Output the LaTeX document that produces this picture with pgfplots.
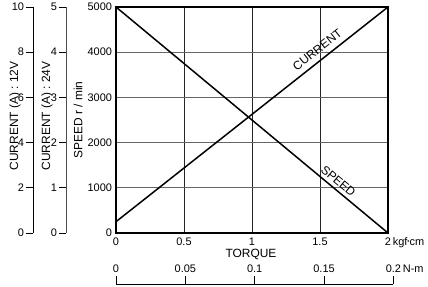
\documentclass[border=0pt]{standalone}
\usepackage{pgfplots}
\pgfplotsset{compat=1.18}
\usepackage{fontspec}
\setmainfont{Liberation Sans}
\usepackage{graphicx}
\newcommand{\kdot}{\raisebox{0.3ex}{\scalebox{0.55}{\textbullet}}}
\newcommand{\tkf}{\fontsize{11}{13}\selectfont}
\newcommand{\lbl}{\fontsize{12}{14}\selectfont}
\begin{document}
\begin{tikzpicture}[x=1bp,y=1bp]
\path[use as bounding box] (0,0) rectangle (428,287);
\pgfplotsset{every axis/.append style={font=\tkf, /pgf/number format/assume math mode=true}}

% main axis: speed
\begin{axis}[at={(116bp,54bp)}, anchor=south west, scale only axis,
  width=272bp, height=226bp,
  xmin=0, xmax=2, ymin=0, ymax=5000,
  xtick={0,0.5,1,1.5,2},
  xticklabels={0,0.5,1,1.5,{2\rlap{\,kgf\kdot cm}}},
  ytick={0,1000,2000,3000,4000,5000},
  yticklabels={0,1000,2000,3000,4000,5000},
  xmajorgrids, ymajorgrids,
  x grid style={line width=0.7bp, black!85},
  y grid style={line width=0.7bp, black!60},
  axis line style={line width=1.6bp},
  tick style={draw=none},
  xticklabel style={yshift=-1bp},
  yticklabel style={xshift=-0.5bp},
  clip=false]
\addplot[line width=1.5bp, black] coordinates {(0,5000) (2,0)};
\node[rotate=-39.7, font=\lbl] at (axis cs:1.635,1150) {SPEED};
\end{axis}

% overlay: current at 12V (0-10 A)
\begin{axis}[at={(116bp,54bp)}, anchor=south west, scale only axis,
  width=272bp, height=226bp,
  xmin=0, xmax=2, ymin=0, ymax=10, hide axis, clip=false]
\addplot[line width=1.5bp, black] coordinates {(0,0.5) (2,10)};
\node[rotate=38.3, font=\lbl] at (axis cs:1.48,8.1) {CURRENT};
\end{axis}

% left axis: current 12V
\begin{axis}[at={(33bp,54bp)}, anchor=south west, scale only axis,
  width=1bp, height=226bp, xmin=0, xmax=1,
  hide x axis, axis y line*=left, ymin=0, ymax=10,
  ytick={0,2,4,6,8,10}, tick align=outside, major tick length=7bp,
  axis line style={line width=0.8bp, -}, tick style={line width=0.8bp, black},
  yticklabel style={xshift=1.5bp}]
\end{axis}

% left axis: current 24V
\begin{axis}[at={(66bp,54bp)}, anchor=south west, scale only axis,
  width=1bp, height=226bp, xmin=0, xmax=1,
  hide x axis, axis y line*=left, ymin=0, ymax=5,
  ytick={0,1,2,3,4,5}, tick align=outside, major tick length=7bp,
  axis line style={line width=0.8bp, black!70, -}, tick style={line width=0.8bp, black},
  yticklabel style={xshift=1.5bp}]
\end{axis}

% bottom N-m axis
\begin{axis}[at={(116bp,2bp)}, anchor=south west, scale only axis,
  width=277.4bp, height=1bp, xmin=0, xmax=0.2, ymin=0, ymax=1,
  hide y axis, axis x line*=top,
  xtick={0,0.05,0.1,0.15,0.2},
  xticklabels={0,0.05,0.1,0.15,{0.2\rlap{\,N-m}}},
  tick align=outside, major tick length=8bp,
  axis line style={line width=0.9bp, -}, tick style={line width=0.9bp, black}]
\end{axis}

\node[rotate=90, font=\lbl] at (15,171) {CURRENT (A) : 12V};
\node[rotate=90, font=\lbl] at (47,171) {CURRENT (A) : 24V};
\node[rotate=90, font=\lbl] at (78,167) {SPEED r / min};
\node[font=\lbl] at (251,33) {TORQUE};
\end{tikzpicture}
\end{document}
